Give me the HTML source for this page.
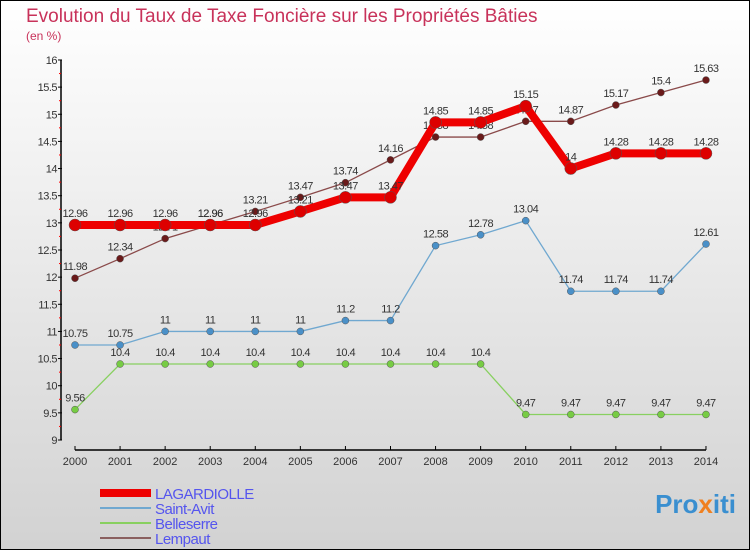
<!DOCTYPE html>
<html><head><meta charset="utf-8"><style>
body{margin:0}
#c{position:relative;width:750px;height:550px;box-sizing:border-box;border:1px solid #000;background:linear-gradient(#ffffff,#d2d2d2);font-family:"Liberation Sans",sans-serif;overflow:hidden}
</style></head><body>
<div id="c">
<svg id="s" width="750" height="550" style="position:absolute;left:-1px;top:-1px" font-family="Liberation Sans, sans-serif">
<text x="26" y="22" font-size="19" fill="#c8325a">Evolution du Taux de Taxe Foncière sur les Propriétés Bâties</text>
<text x="26" y="40" font-size="12" fill="#c8325a">(en %)</text>
<g id="axes"></g><g id="series"></g>
<text x="736" y="513" font-size="26" font-weight="bold" text-anchor="end" fill="#3a8fd0">Pro<tspan fill="#f08020">x</tspan>iti</text>
</svg>
</div>
<script>
const years=[2000,2001,2002,2003,2004,2005,2006,2007,2008,2009,2010,2011,2012,2013,2014];
const lagardiolle=[12.96,12.96,12.96,12.96,12.96,13.21,13.47,13.47,14.85,14.85,15.15,14,14.28,14.28,14.28];
const saintAvit=[10.75,10.75,11,11,11,11,11.2,11.2,12.58,12.78,13.04,11.74,11.74,11.74,12.61];
const belleserre=[9.56,10.4,10.4,10.4,10.4,10.4,10.4,10.4,10.4,10.4,9.47,9.47,9.47,9.47,9.47];
const lempaut=[11.98,12.34,12.71,12.96,13.21,13.47,13.74,14.16,14.58,14.58,14.87,14.87,15.17,15.4,15.63];
const yTicks=[9,9.5,10,10.5,11,11.5,12,12.5,13,13.5,14,14.5,15,15.5,16];
const NS='http://www.w3.org/2000/svg';
const X=i=>75+i*45.07, Y=v=>440-(v-9)*54.29;
function mk(t,a,p){const e=document.createElementNS(NS,t);for(const k in a)e.setAttribute(k,a[k]);p.appendChild(e);return e;}
const ax=document.getElementById('axes'),sr=document.getElementById('series');
let e=mk('line',{x1:61,y1:60,x2:61,y2:440,stroke:'#000','stroke-width':1.5},ax);


e=mk('line',{x1:75,y1:450,x2:706,y2:450,stroke:'#000','stroke-width':1.5},ax);


yTicks.forEach((v,i)=>{
  mk('line',{x1:58,y1:Y(v),x2:62,y2:Y(v),stroke:'#000'},ax);
  if(i<yTicks.length-1)mk('line',{x1:59,y1:Y(v+0.25),x2:61,y2:Y(v+0.25),stroke:'#f00'},ax);
  const t=mk('text',{x:57,y:Y(v)+4,'font-size':11,'text-anchor':'end',fill:'#333','letter-spacing':'-0.5'},ax);t.textContent=String(v);
  
  
});
years.forEach((y,i)=>{
  mk('line',{x1:X(i),y1:446,x2:X(i),y2:450,stroke:'#000'},ax);
  const t=mk('text',{x:X(i),y:465,'font-size':11,'text-anchor':'middle',fill:'#333'},ax);t.textContent=y;
  
  
});
function series(d,col,w,r,dot,name,lab){
  const g=mk('g',{},sr);
  
  
  mk('polyline',{points:d.map((v,i)=>X(i)+','+Y(v)).join(' '),fill:'none',stroke:col,'stroke-width':w},g);
  d.forEach((v,i)=>{
    const c=mk('circle',{cx:X(i),cy:Y(v),r:r,fill:dot,stroke:'#555','stroke-width':0.5},g);
    
    
    const t=mk('text',{x:X(i),y:Y(v)-8,'font-size':11,'text-anchor':'middle',fill:'#333','letter-spacing':'-0.5'},g);t.textContent=String(v);
  });
}
series(belleserre,'#88d060',1.3,3.5,'#77cc44','belleserre-series');
series(saintAvit,'#70a8d0',1.3,3.5,'#4a90c8','saint-avit-series');
series(lempaut,'#8a4a4a',1.3,3.5,'#6a1a1a','lempaut-series');
series(lagardiolle,'#ee0000',8,6,'#dd0000','lagardiolle-series');
const leg=[['LAGARDIOLLE','#ee0000',8],['Saint-Avit','#70a8d0',2],['Belleserre','#88d060',2],['Lempaut','#8a6060',2]];
leg.forEach((l,i)=>{
  const g=mk('g',{},sr);
  
  
  const y=493+i*15;
  mk('line',{x1:100,y1:y,x2:151,y2:y,stroke:l[1],'stroke-width':l[2]},g);
  const t=mk('text',{x:155,y:y+6,'font-size':15,fill:'#5555ee','letter-spacing':'-0.5'},g);t.textContent=l[0];
});
</script>
</body></html>
